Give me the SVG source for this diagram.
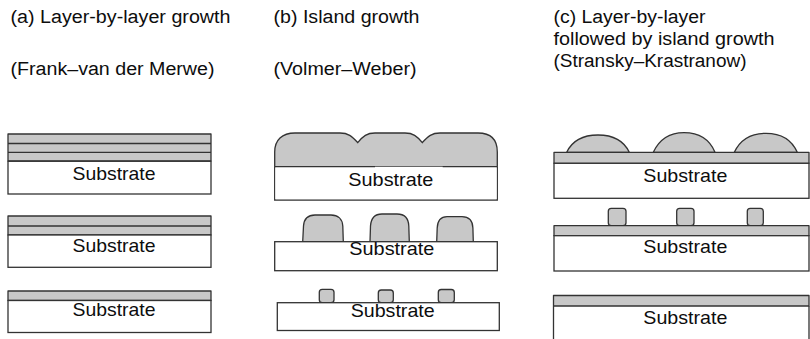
<svg xmlns="http://www.w3.org/2000/svg" width="810" height="339" viewBox="0 0 810 339">
  <style>
    .title { font-family: "Liberation Sans", Arial, Helvetica, sans-serif; font-size: 18px; fill: #0d0d0d; }
    .sub { font-family: "Liberation Sans", Arial, Helvetica, sans-serif; font-size: 19px; fill: #0d0d0d; }
    .box { fill: #ffffff; stroke: #333333; stroke-width: 1.3; }
    .film { fill: #c8c8c8; stroke: #333333; stroke-width: 1.3; stroke-linejoin: round; }
    .edge { fill: none; stroke: #333333; stroke-width: 1.3; }
    .blob { fill: #c8c8c8; stroke: #333333; stroke-width: 1.3; stroke-linejoin: round; }
  </style>

  <rect width="810" height="339" fill="#ffffff"/>

  <!-- Column headings -->
  <g id="headings">
    <text class="title" x="10.5" y="23" textLength="220" lengthAdjust="spacingAndGlyphs">(a) Layer-by-layer growth</text>
    <text class="title" x="10.5" y="75" textLength="204" lengthAdjust="spacingAndGlyphs">(Frank–van der Merwe)</text>
    <text class="title" x="273.5" y="23" textLength="146" lengthAdjust="spacingAndGlyphs">(b) Island growth</text>
    <text class="title" x="273.5" y="75" textLength="143" lengthAdjust="spacingAndGlyphs">(Volmer–Weber)</text>
    <text class="title" x="553.5" y="23" textLength="152" lengthAdjust="spacingAndGlyphs">(c) Layer-by-layer</text>
    <text class="title" x="553.5" y="45" textLength="221" lengthAdjust="spacingAndGlyphs">followed by island growth</text>
    <text class="title" x="553.5" y="67" textLength="193" lengthAdjust="spacingAndGlyphs">(Stransky–Krastranow)</text>
  </g>

  <!-- (a) Frank–van der Merwe: complete monolayers stacking up -->
  <g id="a-three-layers">
    <rect class="film" x="8" y="134" width="203" height="27"/>
    <line class="edge" x1="8" y1="143.5" x2="211" y2="143.5"/>
    <line class="edge" x1="8" y1="152.3" x2="211" y2="152.3"/>
    <rect class="box" x="8" y="161.3" width="203" height="32.7"/>
    <text class="sub" x="72.5" y="180" textLength="83" lengthAdjust="spacingAndGlyphs">Substrate</text>
  </g>
  <g id="a-two-layers">
    <rect class="film" x="8" y="216" width="203" height="19"/>
    <line class="edge" x1="8" y1="226" x2="211" y2="226"/>
    <rect class="box" x="8" y="235" width="203" height="32.3"/>
    <text class="sub" x="72.5" y="252" textLength="83" lengthAdjust="spacingAndGlyphs">Substrate</text>
  </g>
  <g id="a-one-layer">
    <rect class="film" x="8" y="291" width="203" height="9.5"/>
    <rect class="box" x="8" y="300.5" width="203" height="32"/>
    <text class="sub" x="72.5" y="316" textLength="83" lengthAdjust="spacingAndGlyphs">Substrate</text>
  </g>

  <!-- (b) Volmer–Weber: islands nucleate, grow and coalesce -->
  <g id="b-coalesced">
    <path class="blob" d="M274.7,166.7 L274.7,152 C274.7,140 282,133 295,133 L340,133 C348,133 352,136 357.7,142.7 C363,136 367,133 375,133 L405,133 C413,133 417,136 422.3,142.7 C428,136 432,133 440,133 L478,133 C491,133 497.3,140 497.3,152 L497.3,166.7 Z"/>
    <path class="box" d="M274.7,166.7 L274.7,200 L497.3,200 L497.3,166.7"/>
    <rect x="275.4" y="167.4" width="221.2" height="31.9" fill="#ffffff"/>
    <line class="edge" x1="274.7" y1="166.7" x2="375" y2="166.7"/>
    <line class="edge" x1="442.7" y1="166.7" x2="497.3" y2="166.7"/>
    <text class="sub" x="348.3" y="186" textLength="85" lengthAdjust="spacingAndGlyphs">Substrate</text>
  </g>
  <g id="b-islands">
    <path class="blob" d="M302.7,241.7 L303.5,226 C304,219 308,215 315,215 L331,215 C338,215 342.5,219 342.8,226 L343.3,241.7 Z"/>
    <path class="blob" d="M370,241.7 L370.5,226 C371,218 375,214 382,214 L397,214 C404,214 408.5,218 408.8,226 L409.3,241.7 Z"/>
    <path class="blob" d="M436.7,241.7 L437.2,228 C437.6,220 441,216.7 447,216.7 L462,216.7 C469,216.7 472.6,220 472.9,228 L473.3,241.7 Z"/>
    <rect class="box" x="274.7" y="241.7" width="222.6" height="29"/>
    <text class="sub" x="349.3" y="254.5" textLength="85" lengthAdjust="spacingAndGlyphs">Substrate</text>
  </g>
  <g id="b-nuclei">
    <rect class="blob" x="319.3" y="289.3" width="14.7" height="13.4" rx="3"/>
    <rect class="blob" x="378.3" y="290" width="15" height="12.7" rx="3"/>
    <rect class="blob" x="438.3" y="289.5" width="16" height="13.2" rx="3"/>
    <rect class="box" x="277.3" y="302.7" width="222" height="27.8"/>
    <text class="sub" x="350.7" y="317" textLength="84" lengthAdjust="spacingAndGlyphs">Substrate</text>
  </g>

  <!-- (c) Stransky–Krastanov: wetting layer, then islands on top -->
  <g id="c-large-islands">
    <path class="blob" d="M566.7,152.3 C573,139 585,135 598,135 C611,135 623,139 629.3,152.3 Z"/>
    <path class="blob" d="M653.3,152.3 C660,138 671,132.7 684,132.7 C697,132.7 709,138 715,152.3 Z"/>
    <path class="blob" d="M734.3,152.3 C741,138 752,133.3 766,133.3 C780,133.3 791,138 797.3,152.3 Z"/>
    <rect class="film" x="554" y="152.3" width="255" height="11"/>
    <rect class="box" x="554" y="163.3" width="255" height="35"/>
    <text class="sub" x="643.3" y="181.5" textLength="84" lengthAdjust="spacingAndGlyphs">Substrate</text>
  </g>
  <g id="c-small-islands">
    <rect class="blob" x="608.3" y="208.3" width="17.7" height="17.4" rx="3"/>
    <rect class="blob" x="676.7" y="208.3" width="17.3" height="17.4" rx="3"/>
    <rect class="blob" x="747.3" y="208.3" width="16" height="17.4" rx="3"/>
    <rect class="film" x="554" y="225.7" width="255" height="10"/>
    <rect class="box" x="554" y="235.7" width="255" height="35.3"/>
    <text class="sub" x="643.3" y="253" textLength="84" lengthAdjust="spacingAndGlyphs">Substrate</text>
  </g>
  <g id="c-wetting-layer">
    <rect class="film" x="553.5" y="295.5" width="255.5" height="10.5"/>
    <path class="box" d="M553.5,306 L553.5,345 M809,306 L809,345" fill="none"/>
    <text class="sub" x="643.3" y="324" textLength="84" lengthAdjust="spacingAndGlyphs">Substrate</text>
  </g>
</svg>
